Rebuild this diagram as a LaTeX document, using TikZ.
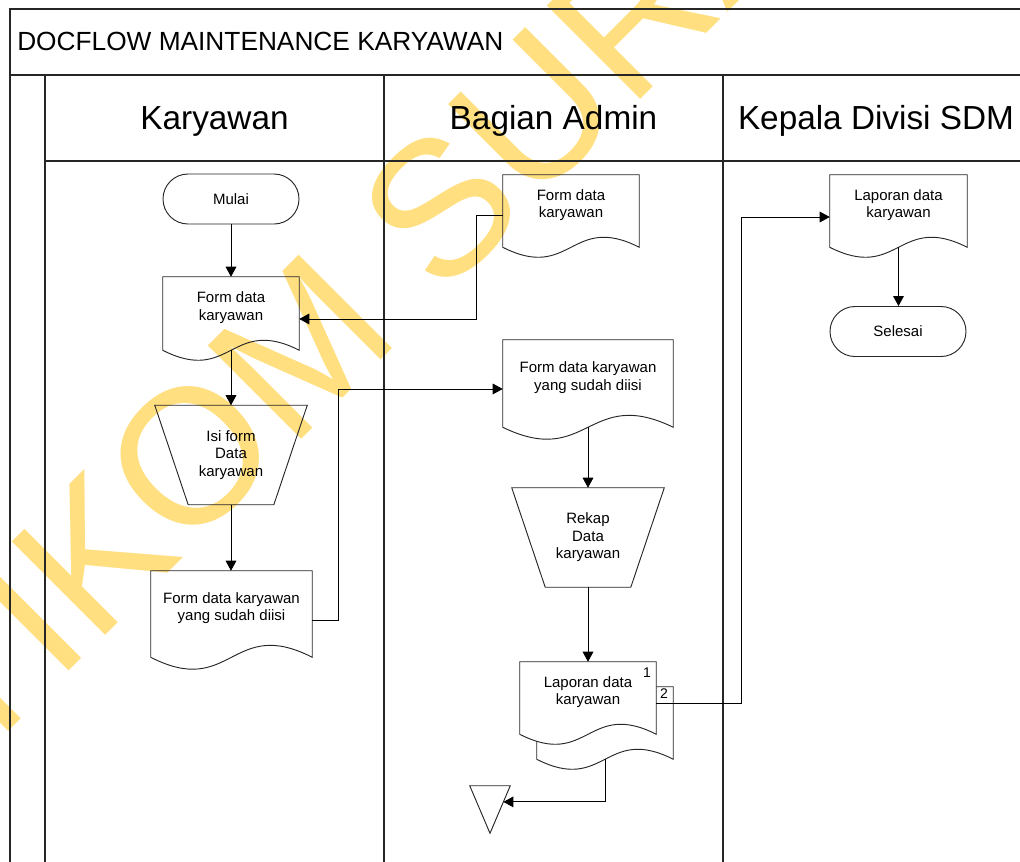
\documentclass[tikz,border=0pt]{standalone}
\usepackage{fontspec}
\setmainfont{Liberation Sans}
\usetikzlibrary{arrows.meta,calc}
\definecolor{wmyellow}{RGB}{255,223,128}
\pgfdeclarelayer{bg}
\pgfsetlayers{bg,main}
\tikzset{
  frame/.style={line width=1pt, draw=black!85},
  shapeline/.style={line width=0.7pt, draw=black!85},
  arr/.style={line width=0.7pt, draw=black, -{Triangle[length=7.5pt,width=8pt]}},
  nodefont/.style={font=\fontsize{11.25pt}{13.1pt}\selectfont},
  term/.style={shape=rectangle, draw=black!85, line width=0.7pt, rounded corners=18.75pt,
    minimum width=102pt, minimum height=37.5pt, inner sep=0pt, nodefont},
  docn/.style={shape=rectangle, draw=none, inner sep=0pt, align=center, nodefont},
  trapn/.style={shape=rectangle, draw=none, inner sep=0pt, align=center, nodefont,
    minimum width=114pt, minimum height=74.25pt},
  header/.style={anchor=base, inner sep=0pt, font=\fontsize{25pt}{30pt}\selectfont},
}
\newcommand\drawdoc[3][]{%
  \draw[shapeline,#1] (#2.north west) -- (#2.north east) -- ([yshift=-9pt]#2.south east)
  .. controls ([yshift={-9pt+#3}]#2.south) and ([yshift={-9pt-#3}]#2.south) ..
  ([yshift=-9pt]#2.south west) -- cycle;}
\newcommand\drawtrap[2]{%
  \draw[shapeline] (#1.north west) -- (#1.north east) -- ([xshift=-#2]#1.south east)
  -- ([xshift=#2]#1.south west) -- cycle;}
\begin{document}
\begin{tikzpicture}[x=0.75pt,y=-0.75pt]
\useasboundingbox (0,0) rectangle (1020,861);
\clip (0,0) rectangle (1020,861);
% watermark
\node[rotate=45, inner sep=0pt, text=wmyellow, font=\fontsize{144pt}{144pt}\selectfont] (wm) at (475,172) {STIKOM SURABAYA};
% frame
\draw[frame] (1030,9) -- (10,9) -- (10,870);
\draw[frame] (10,75) -- (1030,75);
\draw[frame] (45,75) -- (45,870);
\draw[frame] (45,161) -- (1030,161);
\draw[frame] (384,75) -- (384,870);
\draw[frame] (723,75) -- (723,870);
\node[anchor=west, inner sep=0pt, font=\fontsize{19.7pt}{23pt}\selectfont] (title) at (17,41) {DOCFLOW MAINTENANCE KARYAWAN};
\node[header] (h1) at (214.5,129) {Karyawan};
\node[header] (h2) at (553.5,129) {Bagian Admin};
\node[header] (h3) at (876,129) {Kepala Divisi SDM};
% Karyawan lane
\node[term] (mulai) at (231,199) {Mulai};
\node[docn, minimum width=102pt, minimum height=45.75pt] (f1) at (231,307.5) {Form data\\karyawan};
\drawdoc{f1}{26pt}
\node[trapn] (isi) at (231,455) {Isi form\\Data\\karyawan};
\drawtrap{isi}{25.1pt}
\node[docn, minimum width=120.75pt, minimum height=55.5pt] (f2) at (231.5,608) {Form data karyawan\\yang sudah diisi};
\drawdoc{f2}{31pt}
% Admin lane
\node[docn, minimum width=102pt, minimum height=45pt] (a1) at (571,205) {Form data\\karyawan};
\drawdoc{a1}{26pt}
\node[docn, minimum width=127.5pt, minimum height=56.25pt] (a2) at (588,377.5) {Form data karyawan\\yang sudah diisi};
\drawdoc{a2}{31pt}
\node[trapn] (rekap) at (588,537.5) {Rekap\\Data\\karyawan};
\drawtrap{rekap}{25.1pt}
\node[docn, minimum width=102pt, minimum height=45pt] (lapb) at (605,717) {};
\node[docn, minimum width=102pt, minimum height=45pt] (lap) at (588,692) {Laporan data\\karyawan};
\begin{pgfonlayer}{bg}
\drawdoc[fill=white]{lapb}{26pt}
\drawdoc[fill=white]{lap}{26pt}
\end{pgfonlayer}
\node[inner sep=0pt, font=\fontsize{10.5pt}{12pt}\selectfont] (n1) at (647,673) {1};
\node[inner sep=0pt, font=\fontsize{10.5pt}{12pt}\selectfont] (n2) at (664,694) {2};
\node[draw=none, minimum width=30pt, minimum height=35.25pt, inner sep=0pt] (arch) at (490,809.5) {};
\draw[shapeline] (arch.north west) -- (arch.north east) -- (arch.south) -- cycle;
% Kepala lane
\node[docn, minimum width=102.75pt, minimum height=45pt] (k1) at (898.5,205) {Laporan data\\karyawan};
\drawdoc{k1}{26pt}
\node[term] (selesai) at (898,331.5) {Selesai};
% connectors
\draw[arr] (mulai) -- (f1);
\draw[arr] ([yshift=-9pt]f1.south) -- (isi.north);
\draw[arr] (isi.south) -- (isi.south |- f2.north);
\draw[arr] ([yshift=-9pt]f2.east) -- ++(26,0) |- ([yshift=-8.6pt]a2.west);
\draw[arr] ([yshift=-7.5pt]a1.west) -- ++(-26,0) |- ([yshift=-8.6pt]f1.east);
\draw[arr] ([yshift=-9pt]a2.south) -- (rekap.north);
\draw[arr] (rekap.south) -- (lap.north);
\draw[arr] ([yshift=-8.25pt]lap.east) -- ++(85,0) |- ([yshift=-9pt]k1.west);
\draw[arr] ([yshift=-9pt]k1.south) -- (k1.south |- selesai.north);
\coordinate (tip) at ($(arch.north east)!0.34!(arch.south)$);
\draw[arr] ([yshift=-9pt]lapb.south) |- (tip);
\end{tikzpicture}
\end{document}
